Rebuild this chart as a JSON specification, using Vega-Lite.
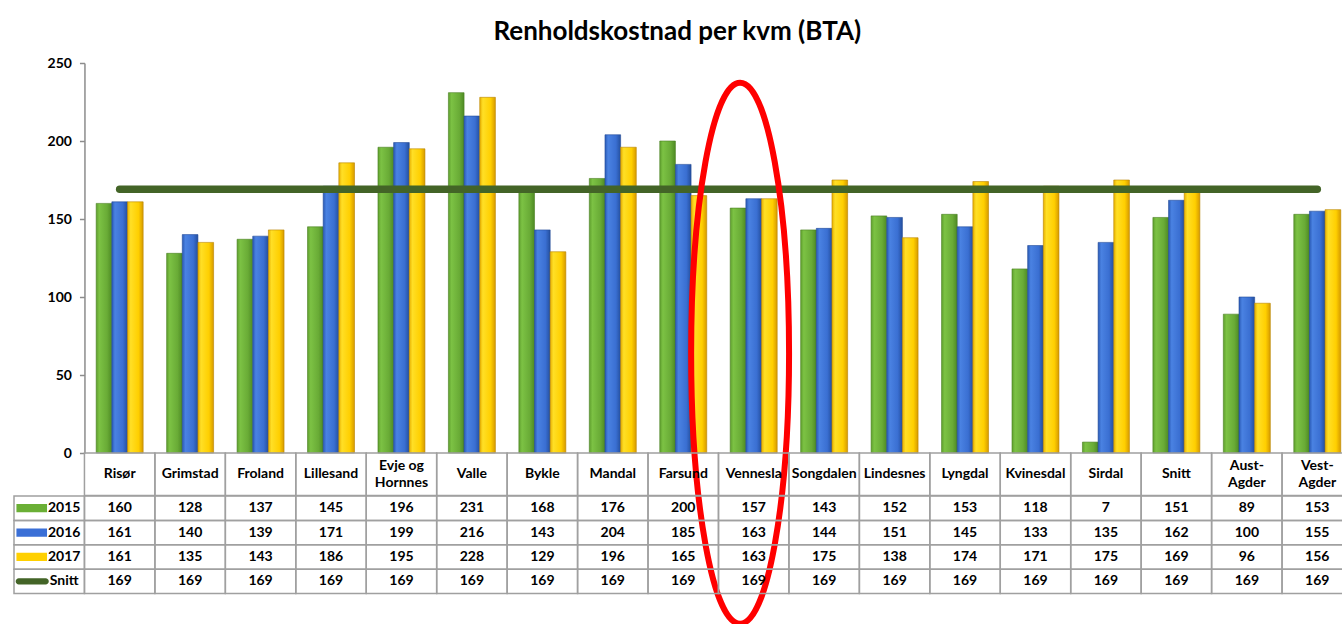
{
  "$schema": "https://vega.github.io/schema/vega-lite/v6.json",
  "padding": {"left": 13, "top": 19, "right": 0, "bottom": 0},
  "bounds": "flush",
  "spacing": 0,
  "title": {"text": "Renholdskostnad per kvm (BTA)", "fontSize": 26, "font": "Lato", "fontWeight": "bold", "anchor": "middle", "color": "black", "offset": 11, "dx": -6},
  "config": {"view": {"stroke": null}, "font": "Lato"},
  "datasets": {
    "kostnad": [
      {"kommune": "Risør", "serie": "2015", "verdi": 160},
      {"kommune": "Risør", "serie": "2016", "verdi": 161},
      {"kommune": "Risør", "serie": "2017", "verdi": 161},
      {"kommune": "Risør", "serie": "Snitt", "verdi": 169},
      {"kommune": "Grimstad", "serie": "2015", "verdi": 128},
      {"kommune": "Grimstad", "serie": "2016", "verdi": 140},
      {"kommune": "Grimstad", "serie": "2017", "verdi": 135},
      {"kommune": "Grimstad", "serie": "Snitt", "verdi": 169},
      {"kommune": "Froland", "serie": "2015", "verdi": 137},
      {"kommune": "Froland", "serie": "2016", "verdi": 139},
      {"kommune": "Froland", "serie": "2017", "verdi": 143},
      {"kommune": "Froland", "serie": "Snitt", "verdi": 169},
      {"kommune": "Lillesand", "serie": "2015", "verdi": 145},
      {"kommune": "Lillesand", "serie": "2016", "verdi": 171},
      {"kommune": "Lillesand", "serie": "2017", "verdi": 186},
      {"kommune": "Lillesand", "serie": "Snitt", "verdi": 169},
      {"kommune": "Evje og Hornnes", "serie": "2015", "verdi": 196},
      {"kommune": "Evje og Hornnes", "serie": "2016", "verdi": 199},
      {"kommune": "Evje og Hornnes", "serie": "2017", "verdi": 195},
      {"kommune": "Evje og Hornnes", "serie": "Snitt", "verdi": 169},
      {"kommune": "Valle", "serie": "2015", "verdi": 231},
      {"kommune": "Valle", "serie": "2016", "verdi": 216},
      {"kommune": "Valle", "serie": "2017", "verdi": 228},
      {"kommune": "Valle", "serie": "Snitt", "verdi": 169},
      {"kommune": "Bykle", "serie": "2015", "verdi": 168},
      {"kommune": "Bykle", "serie": "2016", "verdi": 143},
      {"kommune": "Bykle", "serie": "2017", "verdi": 129},
      {"kommune": "Bykle", "serie": "Snitt", "verdi": 169},
      {"kommune": "Mandal", "serie": "2015", "verdi": 176},
      {"kommune": "Mandal", "serie": "2016", "verdi": 204},
      {"kommune": "Mandal", "serie": "2017", "verdi": 196},
      {"kommune": "Mandal", "serie": "Snitt", "verdi": 169},
      {"kommune": "Farsund", "serie": "2015", "verdi": 200},
      {"kommune": "Farsund", "serie": "2016", "verdi": 185},
      {"kommune": "Farsund", "serie": "2017", "verdi": 165},
      {"kommune": "Farsund", "serie": "Snitt", "verdi": 169},
      {"kommune": "Vennesla", "serie": "2015", "verdi": 157},
      {"kommune": "Vennesla", "serie": "2016", "verdi": 163},
      {"kommune": "Vennesla", "serie": "2017", "verdi": 163},
      {"kommune": "Vennesla", "serie": "Snitt", "verdi": 169},
      {"kommune": "Songdalen", "serie": "2015", "verdi": 143},
      {"kommune": "Songdalen", "serie": "2016", "verdi": 144},
      {"kommune": "Songdalen", "serie": "2017", "verdi": 175},
      {"kommune": "Songdalen", "serie": "Snitt", "verdi": 169},
      {"kommune": "Lindesnes", "serie": "2015", "verdi": 152},
      {"kommune": "Lindesnes", "serie": "2016", "verdi": 151},
      {"kommune": "Lindesnes", "serie": "2017", "verdi": 138},
      {"kommune": "Lindesnes", "serie": "Snitt", "verdi": 169},
      {"kommune": "Lyngdal", "serie": "2015", "verdi": 153},
      {"kommune": "Lyngdal", "serie": "2016", "verdi": 145},
      {"kommune": "Lyngdal", "serie": "2017", "verdi": 174},
      {"kommune": "Lyngdal", "serie": "Snitt", "verdi": 169},
      {"kommune": "Kvinesdal", "serie": "2015", "verdi": 118},
      {"kommune": "Kvinesdal", "serie": "2016", "verdi": 133},
      {"kommune": "Kvinesdal", "serie": "2017", "verdi": 171},
      {"kommune": "Kvinesdal", "serie": "Snitt", "verdi": 169},
      {"kommune": "Sirdal", "serie": "2015", "verdi": 7},
      {"kommune": "Sirdal", "serie": "2016", "verdi": 135},
      {"kommune": "Sirdal", "serie": "2017", "verdi": 175},
      {"kommune": "Sirdal", "serie": "Snitt", "verdi": 169},
      {"kommune": "Snitt", "serie": "2015", "verdi": 151},
      {"kommune": "Snitt", "serie": "2016", "verdi": 162},
      {"kommune": "Snitt", "serie": "2017", "verdi": 169},
      {"kommune": "Snitt", "serie": "Snitt", "verdi": 169},
      {"kommune": "Aust-Agder", "serie": "2015", "verdi": 89},
      {"kommune": "Aust-Agder", "serie": "2016", "verdi": 100},
      {"kommune": "Aust-Agder", "serie": "2017", "verdi": 96},
      {"kommune": "Aust-Agder", "serie": "Snitt", "verdi": 169},
      {"kommune": "Vest-Agder", "serie": "2015", "verdi": 153},
      {"kommune": "Vest-Agder", "serie": "2016", "verdi": 155},
      {"kommune": "Vest-Agder", "serie": "2017", "verdi": 156},
      {"kommune": "Vest-Agder", "serie": "Snitt", "verdi": 169}
    ]
  },
  "vconcat": [
    {
      "width": 1338.5,
      "height": 390,
      "data": {"name": "kostnad"},
      "encoding": {
        "x": {"field": "kommune", "type": "nominal", "scale": {"domain": [" ", "Risør", "Grimstad", "Froland", "Lillesand", "Evje og Hornnes", "Valle", "Bykle", "Mandal", "Farsund", "Vennesla", "Songdalen", "Lindesnes", "Lyngdal", "Kvinesdal", "Sirdal", "Snitt", "Aust-Agder", "Vest-Agder"], "paddingInner": 0, "paddingOuter": 0}, "axis": null},
        "y": {"field": "verdi", "type": "quantitative", "scale": {"domain": [0, 250], "nice": false, "zero": true},
          "axis": {"values": [0, 50, 100, 150, 200, 250], "offset": -70.45, "title": null, "grid": false, "domainColor": "#8c8c8c", "domainWidth": 1.5, "tickColor": "#8c8c8c", "tickSize": 5, "tickWidth": 1.5, "labelFont": "Lato", "labelFontSize": 14, "labelFontWeight": "bold", "labelColor": "black", "labelPadding": 8}}
      },
      "layer": [
        {
          "transform": [{"filter": "datum.serie == '2015'"}],
          "mark": {"type": "bar", "width": {"band": 0.2223}, "xOffset": -15.66, "stroke": "#4a7f22", "strokeWidth": 0.6,
            "color": {"gradient": "linear", "x1": 0, "x2": 1, "y1": 0, "y2": 0, "stops": [{"offset": 0, "color": "#5f9f2e"}, {"offset": 0.2, "color": "#7cc244"}, {"offset": 0.7, "color": "#69ab36"}, {"offset": 1, "color": "#4e8a24"}]}}
        },
        {
          "transform": [{"filter": "datum.serie == '2016'"}],
          "mark": {"type": "bar", "width": {"band": 0.2223}, "xOffset": 0, "stroke": "#234c98", "strokeWidth": 0.6,
            "color": {"gradient": "linear", "x1": 0, "x2": 1, "y1": 0, "y2": 0, "stops": [{"offset": 0, "color": "#2a5ab5"}, {"offset": 0.2, "color": "#4a82e2"}, {"offset": 0.7, "color": "#3a6fd2"}, {"offset": 1, "color": "#244f9e"}]}}
        },
        {
          "transform": [{"filter": "datum.serie == '2017'"}],
          "mark": {"type": "bar", "width": {"band": 0.2223}, "xOffset": 15.66, "stroke": "#b88400", "strokeWidth": 0.6,
            "color": {"gradient": "linear", "x1": 0, "x2": 1, "y1": 0, "y2": 0, "stops": [{"offset": 0, "color": "#e8b000"}, {"offset": 0.2, "color": "#ffdf26"}, {"offset": 0.7, "color": "#ffcf00"}, {"offset": 1, "color": "#d69a00"}]}}
        },
        {
          "transform": [{"filter": "datum.serie == 'Snitt'"}],
          "mark": {"type": "line", "color": "#436427", "strokeWidth": 7.5, "strokeCap": "round"}
        },
        {
          "transform": [{"filter": "datum.serie == 'Snitt' && datum.kommune == 'Vennesla'"}],
          "mark": {"type": "point", "shape": "M 0.181 0 C 0.181 0.5523 0.1 1 0 1 C -0.1 1 -0.181 0.5523 -0.181 0 C -0.181 -0.5523 -0.1 -1 0 -1 C 0.1 -1 0.181 -0.5523 0.181 0 Z", "size": 292681, "filled": false, "stroke": "#ff0000", "strokeWidth": 6, "opacity": 1},
          "encoding": {
            "x": {"field": "kommune", "type": "nominal", "bandPosition": 0.307, "scale": {"domain": [" ", "Risør", "Grimstad", "Froland", "Lillesand", "Evje og Hornnes", "Valle", "Bykle", "Mandal", "Farsund", "Vennesla", "Songdalen", "Lindesnes", "Lyngdal", "Kvinesdal", "Sirdal", "Snitt", "Aust-Agder", "Vest-Agder"], "paddingInner": 0, "paddingOuter": 0}, "axis": null},
            "y": {"datum": 64, "type": "quantitative",
              "axis": {"values": [0, 50, 100, 150, 200, 250], "offset": -70.45, "title": null, "grid": false, "domainColor": "#8c8c8c", "domainWidth": 1.5, "tickColor": "#8c8c8c", "tickSize": 5, "tickWidth": 1.5, "labelFont": "Lato", "labelFontSize": 14, "labelFontWeight": "bold", "labelColor": "black", "labelPadding": 8}}
          }
        }
      ]
    },
    {
      "width": 1338.5,
      "height": 42.5,
      "data": {"name": "kostnad"},
      "transform": [
        {"filter": "datum.serie == '2015'"},
        {"calculate": "replace(replace(datum.kommune, 'og ', 'og\\n'), '-', '-\\n')", "as": "etikett"}
      ],
      "encoding": {
        "x": {"field": "kommune", "type": "nominal", "scale": {"domain": [" ", "Risør", "Grimstad", "Froland", "Lillesand", "Evje og Hornnes", "Valle", "Bykle", "Mandal", "Farsund", "Vennesla", "Songdalen", "Lindesnes", "Lyngdal", "Kvinesdal", "Sirdal", "Snitt", "Aust-Agder", "Vest-Agder"], "paddingInner": 0, "paddingOuter": 0}, "axis": null}
      },
      "layer": [
        {"mark": {"type": "rect", "fill": "white", "fillOpacity": 0, "stroke": "#a0a0a0", "strokeWidth": 1.5}},
        {"transform": [{"filter": "datum.kommune != 'Evje og Hornnes' && datum.kommune != 'Aust-Agder' && datum.kommune != 'Vest-Agder'"}],
         "mark": {"type": "text", "fontSize": 14, "fontWeight": "bold", "color": "black"},
         "encoding": {"text": {"field": "etikett", "type": "nominal"}}},
        {"transform": [{"filter": "datum.kommune == 'Evje og Hornnes' || datum.kommune == 'Aust-Agder' || datum.kommune == 'Vest-Agder'"}],
         "mark": {"type": "text", "fontSize": 14, "fontWeight": "bold", "color": "black", "lineBreak": "\n", "lineHeight": 17, "dy": -8.5},
         "encoding": {"text": {"field": "etikett", "type": "nominal"}}}
      ]
    },
    {
      "width": 1338.5,
      "height": 97.5,
      "data": {"name": "kostnad"},
      "encoding": {
        "x": {"field": "kommune", "type": "nominal", "scale": {"domain": [" ", "Risør", "Grimstad", "Froland", "Lillesand", "Evje og Hornnes", "Valle", "Bykle", "Mandal", "Farsund", "Vennesla", "Songdalen", "Lindesnes", "Lyngdal", "Kvinesdal", "Sirdal", "Snitt", "Aust-Agder", "Vest-Agder"], "paddingInner": 0, "paddingOuter": 0}, "axis": null},
        "y": {"field": "serie", "type": "nominal", "scale": {"domain": ["2015", "2016", "2017", "Snitt"], "paddingInner": 0, "paddingOuter": 0}, "axis": null}
      },
      "layer": [
        {"mark": {"type": "rect", "fill": "white", "fillOpacity": 0, "stroke": "#a0a0a0", "strokeWidth": 1.5}},
        {"mark": {"type": "text", "fontSize": 14, "fontWeight": "bold", "color": "black"},
         "encoding": {"text": {"field": "verdi", "type": "quantitative"}}},
        {
          "transform": [{"filter": "datum.kommune == 'Risør'"}],
          "mark": {"type": "rect", "fill": "white", "fillOpacity": 0, "stroke": "#a0a0a0", "strokeWidth": 1.5},
          "encoding": {"x": {"datum": " ", "type": "nominal", "scale": {"domain": [" ", "Risør", "Grimstad", "Froland", "Lillesand", "Evje og Hornnes", "Valle", "Bykle", "Mandal", "Farsund", "Vennesla", "Songdalen", "Lindesnes", "Lyngdal", "Kvinesdal", "Sirdal", "Snitt", "Aust-Agder", "Vest-Agder"], "paddingInner": 0, "paddingOuter": 0}, "axis": null}}
        },
        {
          "transform": [{"filter": "datum.kommune == 'Risør'"}],
          "mark": {"type": "text", "fontSize": 14, "fontWeight": "bold", "color": "black", "align": "center", "dx": 15},
          "encoding": {
            "x": {"datum": " ", "type": "nominal", "scale": {"domain": [" ", "Risør", "Grimstad", "Froland", "Lillesand", "Evje og Hornnes", "Valle", "Bykle", "Mandal", "Farsund", "Vennesla", "Songdalen", "Lindesnes", "Lyngdal", "Kvinesdal", "Sirdal", "Snitt", "Aust-Agder", "Vest-Agder"], "paddingInner": 0, "paddingOuter": 0}, "axis": null},
            "text": {"field": "serie", "type": "nominal"}
          }
        },
        {
          "transform": [{"filter": "datum.kommune == 'Risør' && datum.serie != 'Snitt'"}],
          "mark": {"type": "bar", "width": 30.6, "height": {"band": 0.34}, "xOffset": -17.5},
          "encoding": {
            "x": {"datum": " ", "type": "nominal", "scale": {"domain": [" ", "Risør", "Grimstad", "Froland", "Lillesand", "Evje og Hornnes", "Valle", "Bykle", "Mandal", "Farsund", "Vennesla", "Songdalen", "Lindesnes", "Lyngdal", "Kvinesdal", "Sirdal", "Snitt", "Aust-Agder", "Vest-Agder"], "paddingInner": 0, "paddingOuter": 0}, "axis": null},
            "color": {"field": "serie", "type": "nominal", "scale": {"domain": ["2015", "2016", "2017"], "range": ["#6aaf35", "#3a6fd6", "#ffd000"]}, "legend": null}
          }
        },
        {
          "transform": [{"filter": "datum.kommune == 'Risør' && datum.serie == 'Snitt'"}],
          "mark": {"type": "bar", "color": "#436427", "cornerRadius": 3, "width": 33, "height": {"band": 0.26}, "xOffset": -17},
          "encoding": {
            "x": {"datum": " ", "type": "nominal", "scale": {"domain": [" ", "Risør", "Grimstad", "Froland", "Lillesand", "Evje og Hornnes", "Valle", "Bykle", "Mandal", "Farsund", "Vennesla", "Songdalen", "Lindesnes", "Lyngdal", "Kvinesdal", "Sirdal", "Snitt", "Aust-Agder", "Vest-Agder"], "paddingInner": 0, "paddingOuter": 0}, "axis": null}
          }
        }
      ]
    }
  ]
}
